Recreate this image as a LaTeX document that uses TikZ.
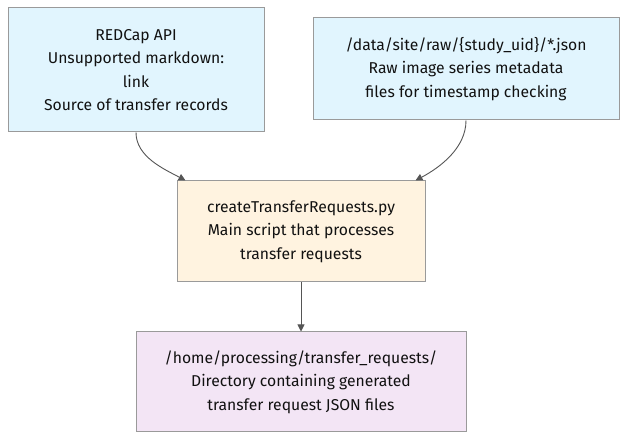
\documentclass[tikz,border=0pt]{standalone}
\usepackage{fontspec}
\setmainfont{Fira Sans}
\usetikzlibrary{arrows.meta,calc}
\definecolor{bluefill}{HTML}{E1F5FE}
\definecolor{orangefill}{HTML}{FFF3E0}
\definecolor{purplefill}{HTML}{F3E5F5}
\definecolor{boxborder}{HTML}{9A9A9A}
\definecolor{edgecol}{HTML}{555555}
\definecolor{txt}{HTML}{111111}
\begin{document}
\begin{tikzpicture}[x=1pt,y=1pt,
  box/.style={draw=boxborder,line width=1pt,align=center,text=txt,
    font=\fontsize{15.7}{23.5}\selectfont,inner sep=0pt},
  conn/.style={draw=edgecol,line width=0.9pt,-{Triangle[width=7pt,length=7pt]}}]
\useasboundingbox (0,0) rectangle (635,446);
\fill[white] (0,0) rectangle (635,446);
\node[box,fill=bluefill,minimum width=256pt,minimum height=124pt] (a) at (136,376)
  {REDCap API\\Unsupported markdown:\\link\\Source of transfer records};
\node[box,fill=bluefill,minimum width=306pt,minimum height=102pt] (b) at (466,377)
  {/data/site/raw/\{study\_uid\}/*.json\\Raw image series metadata\\files for timestamp checking};
\node[box,fill=orangefill,minimum width=248pt,minimum height=101pt] (c) at (301,214.5)
  {createTransferRequests.py\\Main script that processes\\transfer requests};
\node[box,fill=purplefill,minimum width=330pt,minimum height=100pt] (d) at (301,64)
  {/home/processing/transfer\_requests/\\Directory containing generated\\transfer request JSON files};
\draw[conn] (a.south) to[out=-90,in=152,looseness=0.9] ([xshift=9pt]c.north west);
\draw[conn] (b.south) to[out=-90,in=28,looseness=0.9] ([xshift=-10pt]c.north east);
\draw[conn] (c.south) -- (d.north);
\end{tikzpicture}
\end{document}
